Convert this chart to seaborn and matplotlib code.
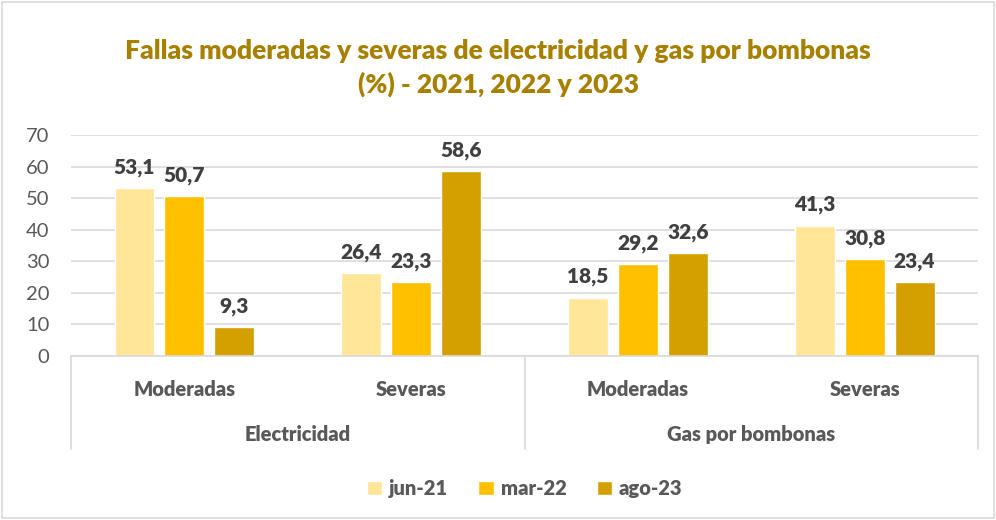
import matplotlib
matplotlib.use('Agg')
import matplotlib.pyplot as plt
import matplotlib.transforms as mtransforms
from matplotlib.patches import Rectangle
import seaborn as sns
import pandas as pd

# --- Data ---
groups = ['Electricidad', 'Electricidad', 'Gas por bombonas', 'Gas por bombonas']
subcats = ['Moderadas', 'Severas', 'Moderadas', 'Severas']
periods = ['jun-21', 'mar-22', 'ago-23']
jun21 = [53.1, 26.4, 18.5, 41.3]
mar22 = [50.7, 23.3, 29.2, 30.8]
ago23 = [9.3, 58.6, 32.6, 23.4]
yticks = [0, 10, 20, 30, 40, 50, 60, 70]

colors = ['#FFE699', '#FFC000', '#D4A000']
title_color = '#A88000'
text_color = '#595959'
label_color = '#404040'
grid_color = '#D9D9D9'

keys = [f'{g}|{s}' for g, s in zip(groups, subcats)]
rows = []
for period, vals in zip(periods, [jun21, mar22, ago23]):
    for k, v in zip(keys, vals):
        rows.append({'cat': k, 'period': period, 'value': v})
df = pd.DataFrame(rows)

# --- Styling ---
sns.set_style('white')
plt.rcParams['font.family'] = ['Lato', 'DejaVu Sans']

fig = plt.figure(figsize=(9.96, 5.2), dpi=100)
ax = fig.add_axes([0.0713, 0.3154, 0.9107, 0.425])

sns.barplot(data=df, x='cat', y='value', hue='period', order=keys, hue_order=periods,
            palette=colors, width=0.66, gap=0.2, ax=ax, saturation=1, legend=True)

ax.set_ylim(0, 70)
ax.set_xlim(-0.5, 3.5)
ax.set_yticks(yticks)
ax.yaxis.grid(True, color=grid_color, linewidth=1.2)
ax.set_axisbelow(True)
for side in ['top', 'right', 'left']:
    ax.spines[side].set_visible(False)
ax.spines['bottom'].set_color(grid_color)
ax.spines['bottom'].set_linewidth(1.2)
ax.tick_params(axis='y', length=0, pad=15.5, labelsize=14.5, labelcolor=text_color)
ax.set_xlabel('')
ax.set_ylabel('')
ax.set_xticks(range(len(keys)))
ax.set_xticklabels(subcats)
ax.tick_params(axis='x', length=0, pad=17, labelsize=14.5, labelcolor=text_color)
for lab in ax.get_xticklabels():
    lab.set_fontweight('heavy')

for cont in ax.containers:
    ax.bar_label(cont, labels=[f'{v:.1f}'.replace('.', ',') for v in cont.datavalues],
                 padding=8, fontsize=15, fontweight='heavy', color=label_color)

# hierarchical category axis
trans = mtransforms.blended_transform_factory(ax.transData, ax.transAxes)
for xpos in [-0.5, 1.5, 3.5]:
    ax.plot([xpos, xpos], [0, -0.42], transform=trans, color=grid_color,
            linewidth=1.2, clip_on=False)
for gname, xc in [('Electricidad', 0.5), ('Gas por bombonas', 2.5)]:
    ax.text(xc, -0.355, gname, transform=trans, ha='center', va='center',
            fontsize=14.5, fontweight='heavy', color=text_color)

leg = ax.legend(loc='center', bbox_to_anchor=(0.5, -0.6), ncol=3, frameon=False,
                handlelength=0.75, handleheight=0.75, handletextpad=0.35, columnspacing=1.5,
                fontsize=14.5)
for t in leg.get_texts():
    t.set_color(text_color)
    t.set_fontweight('heavy')

fig.suptitle('Fallas moderadas y severas de electricidad y gas por bombonas\n(%) - 2021, 2022 y 2023',
             x=0.5, y=0.925, fontsize=19, fontweight='heavy', color=title_color,
             linespacing=1.4, va='top')

fig.patches.append(Rectangle((0.002, 0.003), 0.996, 0.994, transform=fig.transFigure,
                             fill=False, edgecolor=grid_color, linewidth=1.2))

fig.savefig('out.png', dpi=100)
